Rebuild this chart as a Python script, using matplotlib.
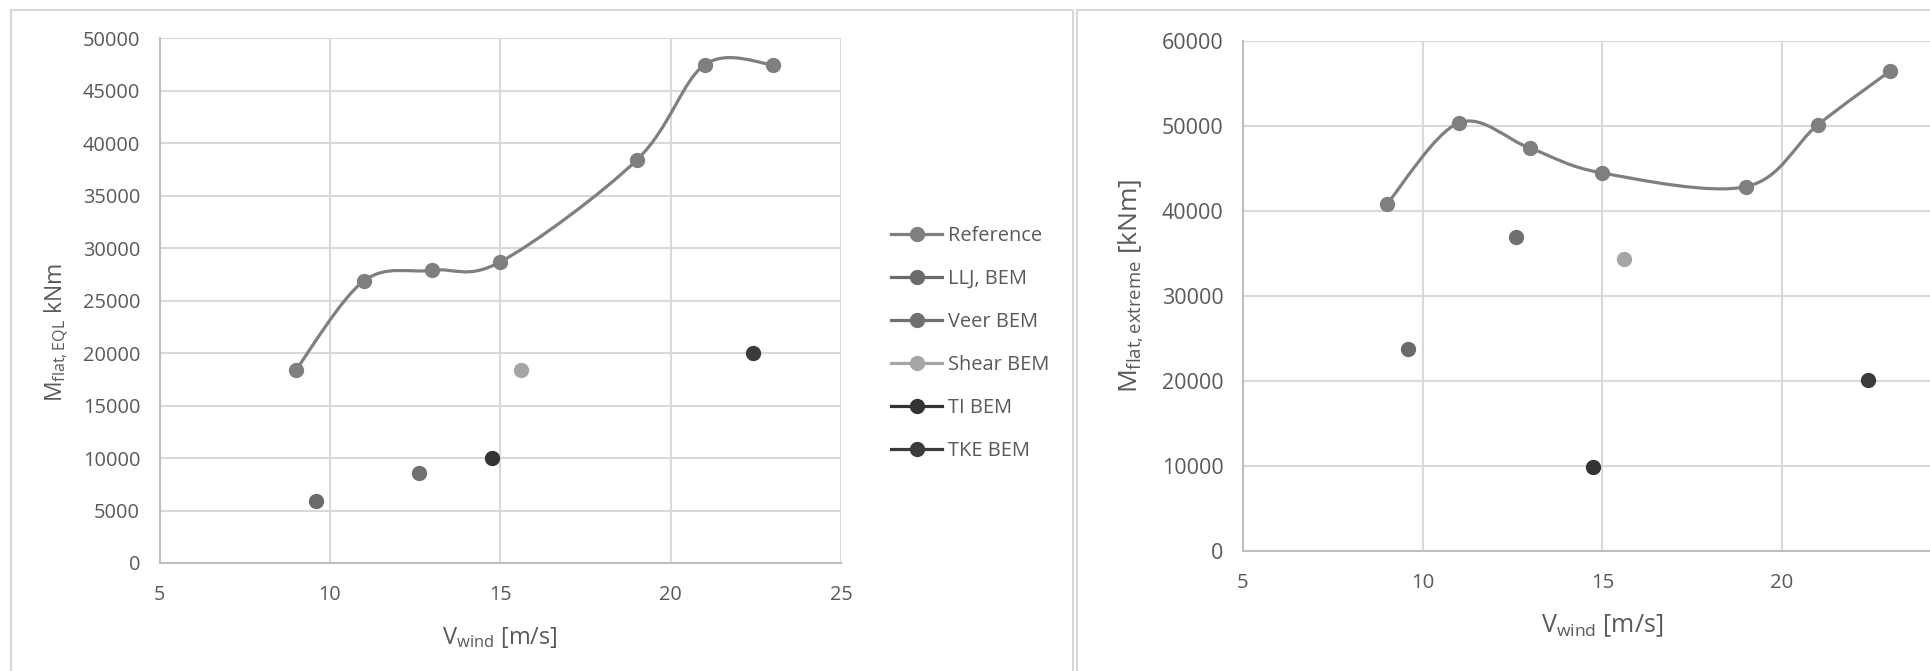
import matplotlib
matplotlib.use("Agg")
import matplotlib.pyplot as plt
from matplotlib.path import Path
from matplotlib.patches import PathPatch, Rectangle
from matplotlib.lines import Line2D
import numpy as np

plt.rcParams['font.family'] = ['Open Sans', 'DejaVu Sans']
plt.rcParams['mathtext.fontset'] = 'custom'
plt.rcParams['mathtext.rm'] = 'Open Sans'
plt.rcParams['mathtext.it'] = 'Open Sans:italic'
plt.rcParams['mathtext.bf'] = 'Open Sans:bold'

# wind speeds of the reference runs
v_ref = [9, 11, 13, 15, 19, 21, 23]
eql_ref = [18400, 26900, 27900, 28700, 38400, 47500, 47500]
ext_ref = [40800, 50400, 47400, 44500, 42900, 50200, 56500]

# single-case runs: (series name, wind speed, EQL moment, extreme moment)
case_names = ["LLJ, BEM", "Veer BEM", "Shear BEM", "TI BEM", "TKE BEM"]
case_v = [9.6, 12.6, 15.6, 14.75, 22.4]
case_eql = [5950, 8600, 18350, 10000, 20050]
case_ext = [23800, 37000, 34400, 9900, 20100]

ref_color = "#7f7f7f"
case_colors = ["#6b6b6b", "#707070", "#a6a6a6", "#333333", "#3b3b3b"]
text_color = "#595959"
grid_color = "#d9d9d9"
spine_color = "#bfbfbf"
msize = 10


def smooth_path(x, y):
    """Excel-style smoothed line: cubic Bezier through every point."""
    p = np.column_stack([x, y]).astype(float)
    ext = np.vstack([p[0], p, p[-1]])
    verts = [p[0]]
    codes = [Path.MOVETO]
    for i in range(len(p) - 1):
        c1 = ext[i + 1] + (ext[i + 2] - ext[i]) / 6.0
        c2 = ext[i + 2] - (ext[i + 3] - ext[i + 1]) / 6.0
        verts += [c1, c2, p[i + 1]]
        codes += [Path.CURVE4] * 3
    return Path(verts, codes)


def draw_panel(ax, ref_y, case_y, ymax, ystep, ylabel, ylabel_size,
               ytick_size, xtick_size, xlabel_size, xticks):
    ax.set_xlim(5, 25)
    ax.set_ylim(0, ymax)
    ax.set_xticks(xticks)
    ax.set_yticks(range(0, ymax + 1, ystep))
    ax.grid(True, color=grid_color, linewidth=1.5)
    ax.set_axisbelow(True)
    for side in ("top", "right"):
        ax.spines[side].set_visible(False)
    for side in ("left", "bottom"):
        ax.spines[side].set_color(spine_color)
        ax.spines[side].set_linewidth(1.5)
    ax.tick_params(length=0, colors=text_color)
    ax.tick_params(axis='y', labelsize=ytick_size, pad=14)
    ax.tick_params(axis='x', labelsize=xtick_size, pad=16)

    ax.add_patch(PathPatch(smooth_path(v_ref, ref_y), facecolor='none',
                           edgecolor=ref_color, linewidth=2.3, zorder=3))
    ax.plot(v_ref, ref_y, 'o', color=ref_color, markersize=msize, zorder=4)
    for v, y, c in zip(case_v, case_y, case_colors):
        ax.plot(v, y, 'o', color=c, markersize=msize, zorder=4)

    ax.set_xlabel(r"V$_{\mathrm{wind}}$ [m/s]", fontsize=xlabel_size,
                  color=text_color, labelpad=14)
    ax.set_ylabel(ylabel, fontsize=ylabel_size, color=text_color)


fig = plt.figure(figsize=(19.30, 6.71), dpi=100)

# panel frames
fig.add_artist(Rectangle((11 / 1930, -0.1), (1073 - 11) / 1930, 1.1 - 10 / 671,
                         transform=fig.transFigure, fill=False,
                         edgecolor="#d9d9d9", linewidth=1.5))
fig.add_artist(Rectangle((1077 / 1930, -0.1), 0.5, 1.1 - 10 / 671,
                         transform=fig.transFigure, fill=False,
                         edgecolor="#d9d9d9", linewidth=1.5))

ax1 = fig.add_axes([0.0827, 0.161, 0.3531, 0.7817])
draw_panel(ax1, eql_ref, case_eql, 50000, 5000,
           r"M$_{\mathrm{flat,EQL}}$ kNm", 16.5, 14.4, 14.3, 17,
           range(5, 26, 5))
ax1.yaxis.set_label_coords(-0.13, 0.44)

# right panel runs past the figure edge, so its last tick is left out
ax2 = fig.add_axes([0.644, 0.1793, 0.3725, 0.7589])
draw_panel(ax2, ext_ref, case_ext, 60000, 10000,
           r"M$_{\mathrm{flat,extreme}}$ [kNm]", 19, 15.5, 14.7, 18,
           range(5, 21, 5))
ax2.yaxis.set_label_coords(-0.135, 0.52)

handles = [Line2D([], [], color=ref_color, marker='o', markersize=msize, linewidth=2.3)]
for c in case_colors:
    handles.append(Line2D([], [], color=c, marker='o', markersize=msize, linewidth=2.3))
fig.legend(handles, ["Reference"] + case_names, loc='upper left',
           bbox_to_anchor=(891 / 1930, 1 - 226 / 671), frameon=False,
           fontsize=14.4, labelcolor=text_color, handlelength=2.55,
           handletextpad=0.3, labelspacing=1.15, borderpad=0, borderaxespad=0)

fig.savefig("out.png", dpi=100, facecolor="white")
